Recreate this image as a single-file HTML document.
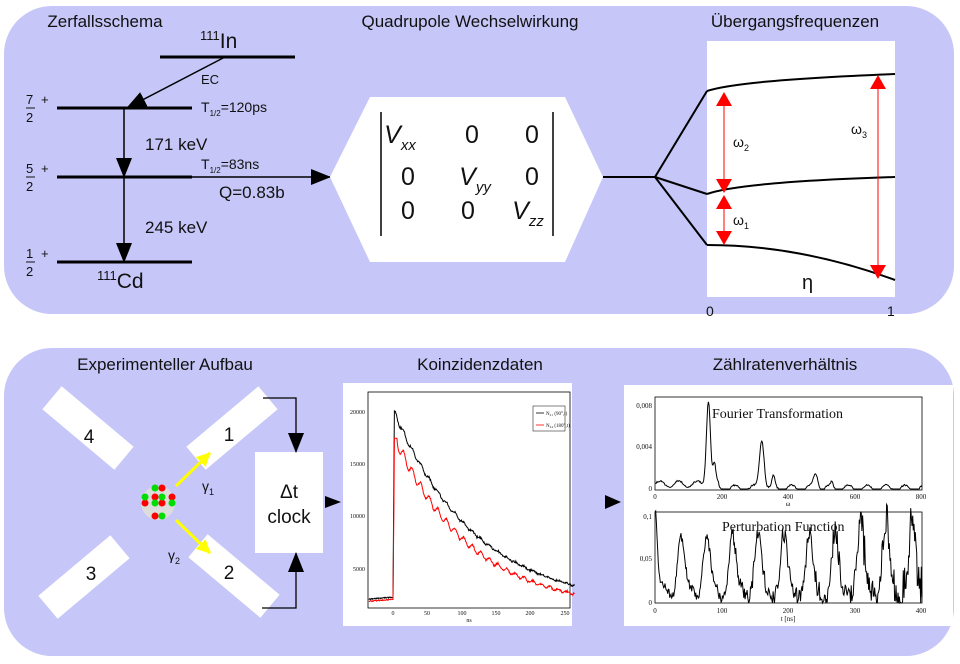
<!DOCTYPE html>
<html><head><meta charset="utf-8"><style>
html,body{margin:0;padding:0;background:#fff;}
svg{display:block;font-family:"Liberation Sans","DejaVu Sans",sans-serif;}
</style></head><body>
<svg id="s" width="960" height="664" viewBox="0 0 960 664" xmlns="http://www.w3.org/2000/svg">
<defs>
<marker id="abig" markerWidth="20" markerHeight="16" refX="19" refY="8" orient="auto" markerUnits="userSpaceOnUse"><path d="M0,0 L20,8 L0,16 z" fill="#000"/></marker>
<marker id="ar" markerWidth="14" markerHeight="16" refX="13" refY="8" orient="auto" markerUnits="userSpaceOnUse"><path d="M0,0 L14,8 L0,16 z" fill="#f00"/></marker>
<marker id="ay" markerWidth="14" markerHeight="14" refX="13" refY="7" orient="auto" markerUnits="userSpaceOnUse"><path d="M0,0 L14,7 L0,14 z" fill="#ff0"/></marker>
</defs>
<rect x="4" y="6" width="950" height="308" rx="48" fill="#c6c6f8"/>
<rect x="4" y="348" width="950" height="308" rx="48" fill="#c6c6f8"/>
<g font-size="17" fill="#111" text-anchor="middle">
<text x="105" y="27">Zerfallsschema</text>
<text x="470" y="27">Quadrupole Wechselwirkung</text>
<text x="795" y="27">Übergangsfrequenzen</text>
<text x="165" y="370">Experimenteller Aufbau</text>
<text x="480" y="370">Koinzidenzdaten</text>
<text x="785" y="370">Zählratenverhältnis</text>
</g>
<g stroke="#000" stroke-width="3">
<line x1="160" y1="57" x2="295" y2="57"/>
<line x1="57" y1="108" x2="192" y2="108"/>
<line x1="57" y1="177" x2="192" y2="177"/>
<line x1="57" y1="262" x2="192" y2="262"/>
</g>
<g stroke="#000" stroke-width="1.5">
<line x1="225" y1="57" x2="127" y2="108" marker-end="url(#abig)"/>
<line x1="124" y1="108" x2="124" y2="177" marker-end="url(#abig)"/>
<line x1="124" y1="177" x2="124" y2="262" marker-end="url(#abig)"/>
<line x1="192" y1="177" x2="330" y2="177" marker-end="url(#abig)"/>
</g>
<g fill="#111">
<text x="200" y="48" font-size="21"><tspan font-size="13" dy="-8">111</tspan><tspan dy="8">In</tspan></text>
<text x="201" y="84" font-size="13">EC</text>
<text x="201" y="112" font-size="14">T<tspan font-size="8" dy="4">1/2</tspan><tspan dy="-4">=120ps</tspan></text>
<text x="145" y="150" font-size="17">171 keV</text>
<text x="201" y="169" font-size="14">T<tspan font-size="8" dy="4">1/2</tspan><tspan dy="-4">=83ns</tspan></text>
<text x="219" y="198" font-size="17">Q=0.83b</text>
<text x="145" y="233" font-size="17">245 keV</text>
<text x="97" y="288" font-size="21"><tspan font-size="13" dy="-8">111</tspan><tspan dy="8">Cd</tspan></text>
<g font-size="13">
<text x="26" y="104">7</text><text x="26" y="122">2</text><text x="41" y="104">+</text>
<text x="26" y="173">5</text><text x="26" y="191">2</text><text x="41" y="173">+</text>
<text x="26" y="258">1</text><text x="26" y="276">2</text><text x="41" y="258">+</text>
</g>
</g>
<g stroke="#111" stroke-width="1"><line x1="26" y1="108" x2="35" y2="108"/><line x1="26" y1="177" x2="35" y2="177"/><line x1="26" y1="262" x2="35" y2="262"/></g>
<polygon points="330,177 370,97 565,97 603,177 565,262 370,262" fill="#fff"/>
<g stroke="#000" stroke-width="1.5"><line x1="381" y1="112" x2="381" y2="236"/><line x1="553" y1="112" x2="553" y2="236"/></g>
<g font-size="25" fill="#111" text-anchor="middle">
<text x="400" y="143"><tspan font-style="italic">V</tspan><tspan font-size="15" dy="7" font-style="italic">xx</tspan></text>
<text x="472" y="143">0</text><text x="532" y="143">0</text>
<text x="408" y="185">0</text>
<text x="475" y="185"><tspan font-style="italic">V</tspan><tspan font-size="15" dy="7" font-style="italic">yy</tspan></text>
<text x="532" y="185">0</text>
<text x="408" y="219">0</text><text x="468" y="219">0</text>
<text x="528" y="219"><tspan font-style="italic">V</tspan><tspan font-size="15" dy="7" font-style="italic">zz</tspan></text>
</g>
<rect x="707" y="41" width="188" height="256" fill="#fff"/>
<g stroke="#000" stroke-width="2" fill="none">
<polyline points="603,177 655,177 707,91"/>
<polyline points="655,177 707,194"/>
<polyline points="655,177 707,245"/>
<path d="M707,91 Q740,80 895,74"/>
<path d="M707,194 Q740,182 895,177"/>
<path d="M707,245 Q800,245 895,280"/>
</g>
<g stroke="#f00" stroke-width="1">
<line x1="724" y1="140" x2="724" y2="93" marker-end="url(#ar)"/>
<line x1="724" y1="140" x2="724" y2="192" marker-end="url(#ar)"/>
<line x1="724" y1="220" x2="724" y2="196" marker-end="url(#ar)"/>
<line x1="724" y1="220" x2="724" y2="244" marker-end="url(#ar)"/>
<line x1="878" y1="170" x2="878" y2="76" marker-end="url(#ar)"/>
<line x1="878" y1="170" x2="878" y2="278" marker-end="url(#ar)"/>
</g>
<g fill="#111">
<text x="733" y="147" font-size="14">ω<tspan font-size="9" dy="4">2</tspan></text>
<text x="733" y="225" font-size="14">ω<tspan font-size="9" dy="4">1</tspan></text>
<text x="851" y="134" font-size="14">ω<tspan font-size="9" dy="4">3</tspan></text>
<text x="802" y="289" font-size="20">η</text>
<text x="706" y="316" font-size="14">0</text>
<text x="887" y="316" font-size="14">1</text>
</g>
<g fill="#fff">
<rect x="-47" y="-15" width="94" height="30" transform="translate(88,428) rotate(40)"/>
<rect x="-47" y="-15" width="94" height="30" transform="translate(232,428) rotate(-40)"/>
<rect x="-47" y="-15" width="94" height="30" transform="translate(84,577) rotate(-40)"/>
<rect x="-47" y="-15" width="94" height="30" transform="translate(234,576) rotate(40)"/>
<rect x="255" y="452" width="68" height="101"/>
</g>
<g font-size="19" fill="#111" text-anchor="middle">
<text x="89" y="443">4</text><text x="229" y="441">1</text><text x="91" y="580">3</text><text x="229" y="579">2</text>
<text x="289" y="498">Δt</text><text x="289" y="523">clock</text>
</g>
<g stroke="#000" stroke-width="1.3" fill="none">
<polyline points="263,398 296,398 296,452" marker-end="url(#abig)"/>
<polyline points="262,608 296,608 296,553" marker-end="url(#abig)"/>
</g>
<path d="M325,496 L341,502 L325,508 z" fill="#000"/>
<path d="M605,495 L621,502 L605,509 z" fill="#000"/>
<circle cx="158" cy="503" r="17" fill="#ddd"/>
<g fill="#f00"><circle cx="162" cy="488" r="3.5"/><circle cx="155" cy="497" r="3.5"/><circle cx="145" cy="503" r="3.5"/><circle cx="162" cy="503" r="3.5"/><circle cx="172" cy="497" r="3.5"/><circle cx="155" cy="516" r="3.5"/></g>
<g fill="#0d0"><circle cx="155" cy="488" r="3.5"/><circle cx="145" cy="497" r="3.5"/><circle cx="162" cy="497" r="3.5"/><circle cx="155" cy="503" r="3.5"/><circle cx="172" cy="503" r="3.5"/><circle cx="162" cy="516" r="3.5"/></g>
<g stroke="#ff0" stroke-width="3">
<line x1="176" y1="486" x2="210" y2="453" marker-end="url(#ay)"/>
<line x1="176" y1="520" x2="210" y2="553" marker-end="url(#ay)"/>
</g>
<g fill="#111" font-size="14">
<text x="202" y="491">γ<tspan font-size="9" dy="4">1</tspan></text>
<text x="168" y="560">γ<tspan font-size="9" dy="4">2</tspan></text>
</g>
<rect x="343" y="383" width="229" height="243" fill="#fff"/>
<rect x="368" y="392" width="202" height="216" fill="none" stroke="#000" stroke-width="0.8"/>
<g font-family="Liberation Serif,serif" font-size="6" fill="#111" text-anchor="end">
<text x="365" y="414">20000</text><text x="365" y="466">15000</text><text x="365" y="518">10000</text><text x="365" y="571">5000</text>
</g>
<g font-family="Liberation Serif,serif" font-size="6" fill="#111" text-anchor="middle">
<text x="393" y="615">0</text><text x="427" y="615">50</text><text x="462" y="615">100</text><text x="496" y="615">150</text><text x="530" y="615">200</text><text x="565" y="615">250</text><text x="469" y="622">ns</text>
</g>
<rect x="533" y="406" width="32" height="25" fill="#fff" stroke="#000" stroke-width="0.5"/>
<line x1="536" y1="413" x2="544" y2="413" stroke="#000" stroke-width="0.8"/>
<line x1="536" y1="425" x2="544" y2="425" stroke="#f00" stroke-width="0.8"/>
<g font-family="Liberation Serif,serif" font-size="5" fill="#111"><text x="546" y="415">N₂₁ (90°,t)</text><text x="546" y="427">N₂₄ (180°,t)</text></g>
<polyline id="pb" fill="none" stroke="#000" stroke-width="1"/>
<polyline id="pr" fill="none" stroke="#f00" stroke-width="1"/>
<rect x="624" y="385" width="329" height="241" fill="#fff"/>
<rect x="655" y="397" width="267" height="93" fill="none" stroke="#000" stroke-width="0.8"/>
<rect x="655" y="512" width="267" height="91" fill="none" stroke="#000" stroke-width="0.8"/>
<g font-family="Liberation Serif,serif" font-size="7" fill="#111">
<text x="652" y="408" text-anchor="end">0,008</text><text x="652" y="449" text-anchor="end">0,004</text><text x="652" y="491" text-anchor="end">0</text>
<text x="652" y="519" text-anchor="end">0,1</text><text x="652" y="561" text-anchor="end">0,05</text><text x="652" y="605" text-anchor="end">0</text>
<g text-anchor="middle"><text x="655" y="499">0</text><text x="722" y="499">200</text><text x="788" y="499">400</text><text x="855" y="499">600</text><text x="921" y="499">800</text><text x="788" y="506">ω</text>
<text x="655" y="613">0</text><text x="722" y="613">100</text><text x="788" y="613">200</text><text x="855" y="613">300</text><text x="921" y="613">400</text><text x="788" y="621">t [ns]</text></g>
</g>
<g font-family="Liberation Serif,serif" font-size="14" fill="#111">
<text x="712" y="418">Fourier Transformation</text>
<text x="722" y="531">Perturbation Function</text>
</g>
<polyline id="pf" fill="none" stroke="#000" stroke-width="1"/>
<polyline id="pp" fill="none" stroke="#000" stroke-width="1"/>
<script>
(function(){
var s=1;function r(){s=(s*16807)%2147483647;return s/2147483647-0.5;}
function X1(t){return 393+t*0.688;}function Y1(n){return 412+(20000-n)*157/15000;}
var b=[],rd=[];
for(var t=-35;t<=264;t+=0.7){var nb,nr;
if(t<0){nb=2300+t*5+r()*100;nr=2100+t*5+r()*100;}
else if(t<2){nb=2300+t/2*19500;nr=2100+t/2*14000;}
else{var o=Math.sin(t*2*Math.PI/12.5);nb=19000*Math.exp(-t/120)+1300+250*o*Math.exp(-t/150)+r()*200;nr=16500*Math.exp(-(t-3)/112)+1000+550*o*Math.exp(-t/150)+r()*180;if(t<6)nr=17500;}
b.push(X1(t).toFixed(1)+","+Y1(nb).toFixed(1));rd.push(X1(t).toFixed(1)+","+Y1(nr).toFixed(1));}
document.getElementById("pb").setAttribute("points",b.join(" "));
document.getElementById("pr").setAttribute("points",rd.join(" "));
var f=[];function g(x,c,w,h){return h*Math.exp(-(x-c)*(x-c)/(2*w*w));}
for(var w=0;w<=800;w+=2){var v=0.0005+0.0003*Math.sin(w/9)+g(w,160,6,0.0082)+g(w,178,4,0.0018)+g(w,320,7,0.0048)+g(w,355,4,0.001)+g(w,482,7,0.0014)+g(w,530,4,0.0004);if(w>190)v-=0.0004;v+=Math.abs(r())*0.0003;if(v<0.0001)v=0.0001;
f.push((655+w*267/800).toFixed(1)+","+(490-v*93/0.0089).toFixed(1));}
document.getElementById("pf").setAttribute("points",f.join(" "));
var p=[];for(var t=0;t<=400;t+=1){var v=0.013;for(var k=1;k<=10;k++)v+=g(t,k*38.5,5,0.06+(k>7?0.01:0));v+=g(t,0,3,0.09);v+=0.008*Math.sin(t/6);v+=r()*(0.008+t*0.00006);if(t>310)v+=r()*0.03;if(v<0)v=0;
p.push((655+t*267/400).toFixed(1)+","+(603-v*91/0.101).toFixed(1));}
document.getElementById("pp").setAttribute("points",p.join(" "));
})();
</script>
</svg>
</body></html>
